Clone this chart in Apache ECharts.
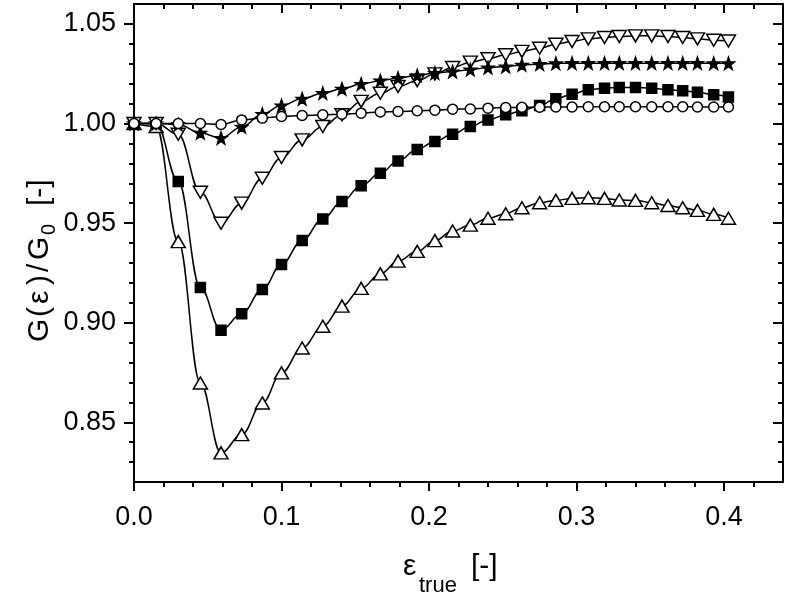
<!DOCTYPE html>
<html><head><meta charset="utf-8">
<script src="https://cdn.jsdelivr.net/npm/echarts@6/dist/echarts.min.js"></script>
<style>html,body{margin:0;padding:0;background:#fff}#c{width:786px;height:601px}</style>
</head><body><div id="c"></div>
<script>
// true strain (x) shared by all series
const strain = [0, 0.015, 0.030, 0.045, 0.059, 0.073, 0.087, 0.100, 0.114, 0.128, 0.141, 0.154, 0.167, 0.179, 0.192, 0.204, 0.216, 0.228, 0.240, 0.252, 0.263, 0.275, 0.286, 0.297, 0.308, 0.319, 0.329, 0.340, 0.351, 0.362, 0.372, 0.382, 0.393, 0.403];
// G(eps)/G0 per series
const circleG = [1.000, 1.000, 1.000, 1.000, 0.9995, 1.0018, 1.0027, 1.0035, 1.0040, 1.0044, 1.0047, 1.0052, 1.0058, 1.0060, 1.0064, 1.0067, 1.0072, 1.0073, 1.0077, 1.0080, 1.0081, 1.0082, 1.0083, 1.0083, 1.0084, 1.0084, 1.0084, 1.0084, 1.0084, 1.0084, 1.0084, 1.0083, 1.0083, 1.0083];
const starG = [1.000, 1.000, 0.9995, 0.9953, 0.9927, 0.9983, 1.0047, 1.0090, 1.0124, 1.0152, 1.0174, 1.0198, 1.0215, 1.0228, 1.0241, 1.0253, 1.0261, 1.0270, 1.0281, 1.0286, 1.0294, 1.0298, 1.0302, 1.0303, 1.0303, 1.0303, 1.0303, 1.0303, 1.0303, 1.0303, 1.0303, 1.0303, 1.0302, 1.0302];
const downTriG = [1.000, 1.000, 0.9946, 0.9655, 0.9499, 0.9600, 0.9725, 0.9829, 0.9918, 0.9985, 1.0044, 1.0111, 1.0152, 1.0186, 1.0215, 1.0249, 1.0281, 1.0308, 1.0325, 1.0345, 1.0362, 1.0378, 1.0398, 1.0412, 1.0425, 1.0432, 1.0437, 1.0440, 1.0440, 1.0437, 1.0432, 1.0425, 1.0418, 1.0414];
const squareG = [1.000, 1.000, 0.9709, 0.9176, 0.8962, 0.9045, 0.9167, 0.9292, 0.9413, 0.9521, 0.9608, 0.9688, 0.9750, 0.9812, 0.9870, 0.9910, 0.9946, 0.9985, 1.0018, 1.0044, 1.0064, 1.0090, 1.0124, 1.0147, 1.0169, 1.0177, 1.0181, 1.0181, 1.0177, 1.0169, 1.0164, 1.0157, 1.0144, 1.0133];
const upTriG = [1.000, 0.9985, 0.9407, 0.8697, 0.8346, 0.8438, 0.8597, 0.8748, 0.8873, 0.8982, 0.9083, 0.9172, 0.9245, 0.9309, 0.9358, 0.9412, 0.9460, 0.9490, 0.9524, 0.9547, 0.9577, 0.9602, 0.9614, 0.9624, 0.9627, 0.9624, 0.9616, 0.9614, 0.9602, 0.9588, 0.9577, 0.9564, 0.9544, 0.9524];
// ticks
const xMajorTicks = [0, 0.1, 0.2, 0.3, 0.4];
const xMinorTicks = [0.02, 0.04, 0.06, 0.08, 0.12, 0.14, 0.16, 0.18, 0.22, 0.24, 0.26, 0.28, 0.32, 0.34, 0.36, 0.38, 0.42];
const yMajorTicks = [0.85, 0.90, 0.95, 1.00, 1.05];
const yMinorTicks = [0.83, 0.84, 0.86, 0.87, 0.88, 0.89, 0.91, 0.92, 0.93, 0.94, 0.96, 0.97, 0.98, 0.99, 1.01, 1.02, 1.03, 1.04];

const X_MIN = 0, X_MAX = 0.44, Y_MIN = 0.82, Y_MAX = 1.06;
const FONT = '"Liberation Sans", Arial, Helvetica, sans-serif';
const STAR = 'path://M50,2 L61.8,35.6 L97.6,36.4 L69.1,58.1 L79.4,92.4 L50,72 L20.6,92.4 L30.9,58.1 L2.4,36.4 L38.2,35.6 Z';

function pairs(ys) { return strain.map((x, i) => [x, ys[i]]); }

function mkAxis(isX, position, ticks, len, inside, showLine, showLabel) {
  return {
    type: 'value', position: position,
    min: isX ? X_MIN : Y_MIN, max: isX ? X_MAX : Y_MAX,
    axisLine: { show: showLine, onZero: false, lineStyle: { color: '#000', width: 2 } },
    axisTick: { show: true, inside: inside, length: len, customValues: ticks, lineStyle: { color: '#000', width: 2 } },
    axisLabel: showLabel ? {
      show: true, customValues: ticks, margin: isX ? 22 : 18,
      color: '#000', fontFamily: FONT, fontSize: 27,
      formatter: v => isX ? v.toFixed(1) : v.toFixed(2)
    } : { show: false },
    splitLine: { show: false }, minorTick: { show: false }, minorSplitLine: { show: false }
  };
}

function lineSeries(name, ys, symbol, size, fill, rotate, z) {
  return {
    name: name, type: 'line', data: pairs(ys),
    xAxisIndex: 0, yAxisIndex: 0,
    smooth: 0.4, smoothMonotone: 'x',
    symbol: symbol, symbolSize: size, symbolRotate: rotate || 0,
    showSymbol: true, showAllSymbol: true,
    itemStyle: { color: fill, borderColor: '#000', borderWidth: 1.5 },
    lineStyle: { color: '#000', width: 1.5 },
    z: z, animation: false, silent: true
  };
}

function t(x, y, text, size) {
  return { type: 'text', x: x, y: y, style: { text: text, fontFamily: FONT, fontSize: size, fill: '#000', align: 'left', verticalAlign: 'middle' } };
}

const chart = echarts.init(document.getElementById('c'), null, { renderer: 'canvas' });
chart.setOption({
  backgroundColor: '#fff',
  animation: false,
  grid: { left: 134, right: 3, top: 4, bottom: 119, containLabel: false, outerBoundsMode: 'none' },
  xAxis: [
    mkAxis(true, 'bottom', xMajorTicks, 9, false, true, true),
    mkAxis(true, 'bottom', xMinorTicks, 5, false, false, false),
    mkAxis(true, 'top', xMajorTicks, 9, true, true, false),
    mkAxis(true, 'top', xMinorTicks, 5, true, false, false)
  ],
  yAxis: [
    mkAxis(false, 'left', yMajorTicks, 10, false, true, true),
    mkAxis(false, 'left', yMinorTicks, 5, false, false, false),
    mkAxis(false, 'right', yMajorTicks, 10, true, true, false),
    mkAxis(false, 'right', yMinorTicks, 5, true, false, false)
  ],
  series: [
    lineSeries('up', upTriG, 'triangle', [14, 12], '#fff', 0, 2),
    lineSeries('square', squareG, 'rect', [10, 10], '#000', 0, 3),
    lineSeries('down', downTriG, 'triangle', [14, 12], '#fff', 180, 4),
    lineSeries('star', starG, STAR, [12, 12], '#000', 0, 5),
    lineSeries('circle', circleG, 'circle', [10, 10], '#fff', 0, 6)
  ],
  graphic: [
    {
      type: 'group', x: 40, y: 258, rotation: Math.PI / 2,
      children: [
        t(-84, 0, 'G', 30),
        t(-59, 0, '(', 30),
        t(-46, 0, 'ε', 30),
        t(-27, 0, ')', 30),
        t(-14, 0, '/', 30),
        t(-2, 0, 'G', 30),
        t(23, 9, '0', 20),
        t(52, 0, '[-]', 30)
      ]
    },
    {
      type: 'group', x: 453, y: 567,
      children: [
        t(-50, 0, 'ε', 30),
        t(-34, 19, 'true', 22),
        t(18, 0, '[-]', 30)
      ]
    }
  ]
});
</script>
</body></html>
